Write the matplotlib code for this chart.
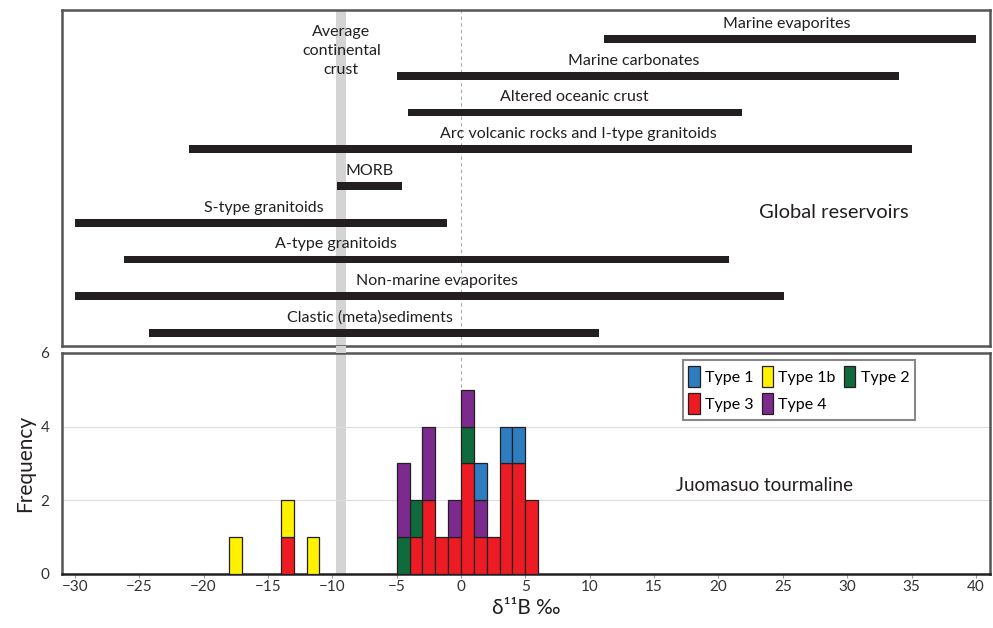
import matplotlib
matplotlib.use('Agg')
import matplotlib.pyplot as plt
import matplotlib.patches as mpatches
import matplotlib.transforms as mtransforms
import numpy as np

plt.rcParams['font.family'] = ['Lato', 'DejaVu Sans']

# Global reservoirs: delta11B ranges (permil)
reservoirs = ['Marine evaporites', 'Marine carbonates', 'Altered oceanic crust',
              'Arc volcanic rocks and I-type granitoids', 'MORB', 'S-type granitoids',
              'A-type granitoids', 'Non-marine evaporites', 'Clastic (meta)sediments']
res_min = [11.1, -5.0, -4.1, -21.1, -9.6, -30.0, -26.2, -30.0, -24.2]
res_max = [40.0, 34.0, 21.8, 35.0, -4.6, -1.1, 20.8, 25.1, 10.7]
# where the label sits along x
label_x = [25.3, 13.4, 8.8, 9.1, -7.1, -15.3, -9.7, -1.9, -7.1]

# average continental crust band
crust_lo, crust_hi = -9.7, -8.9

# Juomasuo tourmaline histogram (bin left edges, counts per type)
bin_left = [-18, -14, -12, -5, -4, -3, -2, -1, 0, 1, 2, 3, 4, 5]
type3 = [0, 1, 0, 0, 1, 2, 1, 1, 3, 1, 1, 3, 3, 2]
type1b = [1, 1, 1, 0, 0, 0, 0, 0, 0, 0, 0, 0, 0, 0]
type2 = [0, 0, 0, 1, 1, 0, 0, 0, 1, 0, 0, 0, 0, 0]
type4 = [0, 0, 0, 2, 0, 2, 0, 1, 1, 1, 0, 0, 0, 0]
type1 = [0, 0, 0, 0, 0, 0, 0, 0, 0, 1, 0, 1, 1, 0]

colors = {'Type 1': '#2f7dc1', 'Type 1b': '#fff200', 'Type 2': '#0f6b3b',
          'Type 3': '#ed1c24', 'Type 4': '#7d2a8e'}

fig = plt.figure(figsize=(9.93, 6.28), dpi=100)
ax1 = fig.add_axes([0.0624, 0.4495, 0.9346, 0.5345])
ax2 = fig.add_axes([0.0624, 0.0860, 0.9346, 0.3519])

xlim = (-31.0, 41.1)
spine_col = '#555555'

# --- top panel: reservoir ranges ---
rows = np.arange(len(reservoirs))
ax1.axvspan(crust_lo, crust_hi, color='#d4d4d4', lw=0, zorder=0)
ax1.axvline(0, color='#aaaaaa', lw=0.8, ls=(0, (3, 3)), zorder=1)
ax1.barh(rows, np.array(res_max) - np.array(res_min), left=res_min, height=0.21,
         color='#231f20', zorder=3)
for r, name, lx in zip(rows, reservoirs, label_x):
    ax1.text(lx, r - 0.3, name, ha='center', va='baseline', fontsize=11.5, color='#231f20', zorder=4)
ax1.text((crust_lo + crust_hi) / 2, 0.33, 'Average\ncontinental\ncrust', ha='center', va='center',
         fontsize=11.5, linespacing=1.45, color='#231f20', zorder=4)
ax1.text(29.0, 4.73, 'Global reservoirs', ha='center', va='center', fontsize=14.5, color='#231f20')
ax1.set_xlim(xlim)
ax1.set_ylim(8.35, -0.79)
ax1.set_xticks([])
ax1.set_yticks([])
for s in ax1.spines.values():
    s.set_color(spine_col)
    s.set_linewidth(1.8)

# --- bottom panel: histogram ---
ax2.axvspan(crust_lo, crust_hi, color='#d4d4d4', lw=0, zorder=0)
ax2.axvline(0, color='#aaaaaa', lw=0.8, ls=(0, (3, 3)), zorder=1)
for yv in [2, 4]:
    ax2.axhline(yv, color='#dddddd', lw=0.8, zorder=0.5)

bottom = np.zeros(len(bin_left))
stack = [('Type 3', type3), ('Type 1b', type1b), ('Type 2', type2), ('Type 4', type4), ('Type 1', type1)]
for name, vals in stack:
    vals = np.array(vals)
    mask = vals > 0
    ax2.bar(np.array(bin_left)[mask], vals[mask], width=1, bottom=bottom[mask], align='edge',
            color=colors[name], edgecolor='#231f20', lw=0.9, zorder=3)
    bottom += vals

ax2.text(23.6, 2.4, 'Juomasuo tourmaline', ha='center', va='center', fontsize=13.5, color='#231f20')

ax2.set_xlim(xlim)
ax2.set_ylim(0, 6)
ax2.set_xticks(np.arange(-30, 41, 5))
ax2.set_yticks([0, 2, 4, 6])
ax2.tick_params(axis='x', length=3, color='#999999', labelsize=11, labelcolor='#333333', pad=1)
ax2.tick_params(axis='y', length=0, labelsize=11, labelcolor='#333333', pad=9)
ax2.set_xlabel('δ¹¹B ‰', fontsize=15, color='#231f20', labelpad=3)
ax2.set_ylabel('Frequency', fontsize=15, color='#231f20', labelpad=4)
for s in ax2.spines.values():
    s.set_color(spine_col)
    s.set_linewidth(1.8)
ax2.spines['bottom'].set_color('#231f20')

# legend (row-wise order)
order = ['Type 1', 'Type 3', 'Type 1b', 'Type 4', 'Type 2']
handles = [mpatches.Patch(facecolor=colors[n], edgecolor='#231f20', lw=0.9, label=n) for n in order]
leg = ax2.legend(handles=handles, ncol=3, loc='upper left', bbox_to_anchor=(0.669, 0.968),
                 borderaxespad=0, fontsize=11.5, handlelength=0.7, handleheight=1.7,
                 handletextpad=0.35, columnspacing=0.5, labelspacing=0.35,
                 fancybox=False, framealpha=1, edgecolor='#888888', borderpad=0.35)
leg.get_frame().set_linewidth(1.5)

# grey crust band through the gap between the panels
trans = mtransforms.blended_transform_factory(ax2.transData, fig.transFigure)
fig.patches.append(mpatches.Rectangle((crust_lo, 0.4379), crust_hi - crust_lo, 0.0116,
                                      transform=trans, color='#d4d4d4', lw=0, zorder=0))

fig.savefig('out.png', dpi=100)
